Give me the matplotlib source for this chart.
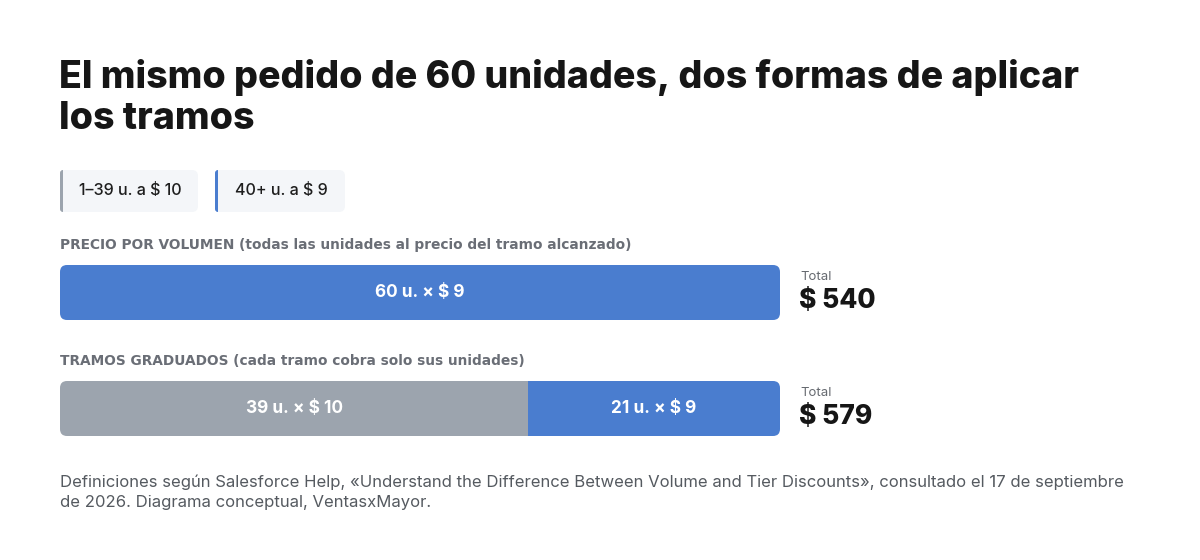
import matplotlib
matplotlib.use("Agg")
import matplotlib.pyplot as plt
from matplotlib.patches import FancyBboxPatch, Rectangle

# ---- data ----
title_lines = ["El mismo pedido de 60 unidades, dos formas de aplicar", "los tramos"]
tier_labels = ["1–39 u. a $ 10", "40+ u. a $ 9"]
tier_colors = ["#9ca4ae", "#4a7dcf"]
row_titles = ["PRECIO POR VOLUMEN (todas las unidades al precio del tramo alcanzado)",
              "TRAMOS GRADUADOS (cada tramo cobra solo sus unidades)"]
# segments per row: (units, price, color index)
row_units = [[60], [39, 21]]
row_prices = [[9], [10, 9]]
row_color_idx = [[1], [0, 1]]
row_totals = ["$ 540", "$ 579"]
total_units = 60
footer = ("Definiciones según Salesforce Help, «Understand the Difference Between Volume and Tier Discounts», consultado el 17 de septiembre\n"
          "de 2026. Diagrama conceptual, VentasxMayor.")

FONT = ["Inter", "DejaVu Sans"]
W, H = 1200, 560
fig = plt.figure(figsize=(W / 100, H / 100), dpi=100)
fig.patch.set_facecolor("white")

# overlay axes in pixel coords for text and legend chips
ov = fig.add_axes([0, 0, 1, 1])
ov.set_xlim(0, W)
ov.set_ylim(H, 0)
ov.axis("off")

def txt(x, y, s, **kw):
    kw.setdefault("family", FONT)
    return ov.text(x, y, s, **kw)

# title
txt(59, 78, title_lines[0], fontsize=27, fontweight=800, color="#161616", va="center")
txt(59, 119, title_lines[1], fontsize=27, fontweight=800, color="#161616", va="center")

# legend chips
chip_x = [60, 215]
chip_w = [138, 130]
for i, lab in enumerate(tier_labels):
    x0, w = chip_x[i], chip_w[i]
    ov.add_patch(FancyBboxPatch((x0, 170), w, 42, boxstyle="round,pad=0,rounding_size=6",
                                fc="#f4f6f9", ec="none"))
    ov.add_patch(FancyBboxPatch((x0, 170), 6, 42, boxstyle="round,pad=0,rounding_size=3",
                                fc=tier_colors[i], ec="none"))
    ov.add_patch(Rectangle((x0 + 3, 170), 4, 42, fc="#f4f6f9", ec="none"))
    txt(x0 + w / 2 + 1, 191, lab, fontsize=11.6, fontweight="medium", color="#1e1e1e",
        ha="center", va="center")

# row titles
row_title_y = [245, 361]
for y, t in zip(row_title_y, row_titles):
    txt(60, y, t, fontsize=9.95, fontweight="bold", color="#6a6e76", va="center",
        family=["DejaVu Sans"])

# bar axes: x 60..780 px, y 240..460 px
ax = fig.add_axes([60 / W, (H - 460) / H, 720 / W, 220 / H])
ax.set_xlim(0, total_units)
row_gap_px = 116
ax.set_ylim(1 + (460 - 408.5) / row_gap_px, -(292.5 - 240) / row_gap_px)
ax.axis("off")
bar_h = 55 / row_gap_px
px_per_x = 720 / total_units
radius_px = 7

for r in range(len(row_units)):
    tot = sum(row_units[r])
    clip = FancyBboxPatch((0, r - bar_h / 2), tot, bar_h,
                          boxstyle=f"round,pad=0,rounding_size={radius_px / px_per_x}",
                          mutation_aspect=px_per_x / row_gap_px,
                          fc="none", ec="none", transform=ax.transData)
    ax.add_patch(clip)
    left = 0
    for u, p, ci in zip(row_units[r], row_prices[r], row_color_idx[r]):
        bars = ax.barh(r, u, left=left, height=bar_h, color=tier_colors[ci], linewidth=0)
        for b in bars:
            b.set_clip_path(clip)
        ax.text(left + u / 2, r, f"{u} u. × $ {p}", ha="center", va="center",
                color="white", fontsize=12.4, fontweight="bold", family=FONT)
        left += u

# totals
total_y = [292, 408]
for y, t in zip(total_y, row_totals):
    txt(800, y - 15, "Total", fontsize=9.5, color="#666a70", va="center")
    txt(799, y + 9, t, fontsize=19, fontweight=800, color="#161616", va="center")

# footer
txt(60, 492, footer, fontsize=12, color="#555a60", va="center", linespacing=1.45)

fig.savefig("out.png", dpi=100, facecolor="white")
